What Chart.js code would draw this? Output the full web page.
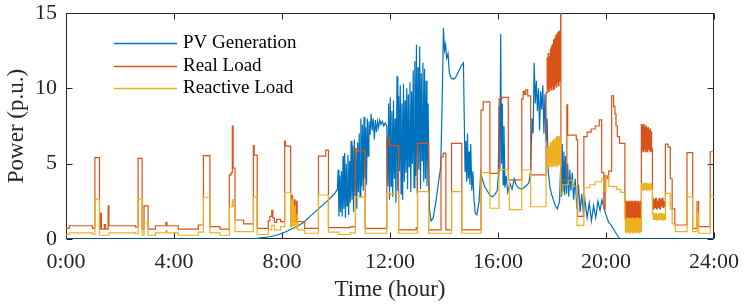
<!DOCTYPE html>
<html><head><meta charset="utf-8">
<script src="https://cdn.jsdelivr.net/npm/chart.js@4/dist/chart.umd.min.js"></script>
<style>html,body{margin:0;padding:0;background:#fff;}canvas{display:block;}</style>
</head><body>
<canvas id="c" width="746" height="307"></canvas>
<script>
const seriesNames = ['PV Generation', 'Real Load', 'Reactive Load'];
const seriesColors = ['#0072BD', '#D95319', '#EDB120'];
const xTickHours = [0, 4, 8, 12, 16, 20, 24];
const yTickValues = [0, 5, 10, 15];

// [hour, p.u.]
const pvGeneration = [
[0,0],[6.90,0],[7.20,0.08],[7.56,0.15],[7.85,0.28],[8.10,0.45],[8.45,0.75],[8.80,1.10],[9.10,1.60],[9.35,2.00],[9.72,2.60],[9.95,3.00],[10.05,3.30],
[10.08,4.60],[10.11,1.50],[10.14,4.20],[10.17,1.80],[10.20,4.50],[10.23,1.50],[10.26,5.50],[10.29,2.00],[10.32,5.70],[10.35,1.40],[10.38,5.00],[10.41,2.20],[10.44,5.60],[10.47,1.60],[10.50,5.20],[10.53,2.40],[10.56,6.50],[10.59,2.60],[10.62,6.20],[10.65,1.80],[10.68,6.60],[10.71,2.90],[10.74,5.90],[10.77,2.00],[10.80,6.40],[10.83,3.10],[10.86,7.00],[10.89,2.80],[10.92,8.00],[10.95,3.50],[10.98,7.60],[11.01,3.20],[11.04,8.10],[11.07,4.00],[11.10,7.40],[11.13,3.60],[11.16,8.00],[11.19,5.50],[11.22,7.80],[11.26,6.90],[11.30,8.30],[11.34,7.20],[11.38,8.00],[11.42,6.60],[11.46,7.90],[11.50,7.10],[11.54,7.80],[11.58,7.40],[11.62,7.90],[11.67,7.60],[11.72,7.80],[11.77,7.50],[11.82,7.70],[11.88,7.50],
[11.92,3.50],[11.95,9.00],[11.98,2.60],[12.01,9.40],[12.04,3.50],[12.07,8.50],[12.10,2.80],[12.13,9.20],[12.16,4.00],[12.19,8.00],[12.22,2.40],[12.26,10.80],[12.29,3.20],[12.32,9.50],[12.35,4.50],[12.38,10.20],[12.41,3.00],[12.44,9.00],[12.47,2.60],[12.50,10.30],[12.53,3.80],[12.56,9.20],[12.59,4.40],[12.62,10.00],[12.65,3.30],[12.68,9.60],[12.71,4.80],[12.74,10.40],[12.77,3.10],[12.80,9.80],[12.83,5.00],[12.86,11.20],[12.89,3.40],[12.92,11.80],[12.95,4.20],[12.98,12.90],[13.01,3.00],[13.04,11.40],[13.07,4.60],[13.10,12.80],[13.13,3.30],[13.16,11.00],[13.19,5.20],[13.22,11.70],[13.25,3.80],[13.28,11.30],[13.31,4.00],[13.34,10.50],[13.37,3.50],[13.41,9.00],[13.46,2.00],[13.52,1.20],[13.60,1.40],[13.70,2.50],[13.80,3.80],[13.88,4.80],
[13.93,9.00],[13.98,14.00],[14.02,12.50],[14.06,12.90],[14.10,12.00],[14.15,12.30],[14.20,11.00],[14.26,10.70],[14.34,10.60],[14.42,10.70],[14.48,10.90],[14.56,11.20],[14.64,11.50],[14.72,11.70],
[14.75,8.00],[14.78,4.50],[14.81,6.50],[14.84,3.80],[14.87,7.00],[14.90,4.00],[14.93,5.80],[14.96,3.60],[14.99,6.30],[15.03,3.20],[15.07,4.50],[15.11,2.60],[15.16,1.70],[15.22,1.60],[15.30,2.50],[15.36,4.40],[15.43,3.90],[15.50,3.50],[15.60,3.20],[15.70,2.90],[15.80,2.80],[15.90,3.00],[15.97,3.20],
[16.01,4.20],[16.04,8.80],[16.07,4.50],[16.10,13.60],[16.13,5.00],[16.16,9.00],[16.19,3.60],[16.22,7.50],[16.26,3.40],[16.30,4.20],[16.36,3.10],[16.44,3.70],[16.52,3.30],[16.60,4.00],[16.67,3.60],[16.75,3.40],[16.88,3.30],[17.02,3.50],[17.14,3.70],
[17.21,4.50],[17.26,8.00],[17.30,7.00],[17.34,11.70],[17.38,9.00],[17.42,10.50],[17.46,8.50],[17.50,10.00],[17.54,7.20],[17.58,9.80],[17.62,8.60],[17.66,10.20],[17.70,7.00],[17.74,9.60],[17.78,6.50],[17.82,8.00],[17.86,4.50],[17.92,3.50],[17.98,3.00],[18.05,2.60],[18.12,2.20],[18.20,2.00],[18.28,2.50],
[18.32,4.80],[18.35,2.80],[18.38,6.30],[18.41,3.20],[18.44,5.80],[18.47,2.90],[18.50,5.50],[18.54,3.00],[18.58,5.00],[18.62,2.80],[18.66,4.60],[18.70,3.20],[18.75,4.40],[18.80,2.60],[18.86,4.00],[18.92,2.00],[18.98,3.60],[19.04,1.80],[19.10,3.00],[19.16,1.70],[19.22,2.60],[19.30,1.40],[19.38,2.40],[19.46,1.20],[19.54,2.20],[19.62,1.40],[19.70,2.50],[19.78,1.90],[19.85,2.60],[19.92,2.10],[20.00,1.60],[20.10,1.10],[20.20,0.90],[20.30,0.60],[20.40,0.30],[20.50,0.05],[20.55,0],[24,0]
];

const realLoad = [
[0.00,0.70],[0.12,0.88],[0.98,0.70],[1.07,5.40],[1.24,0.65],[1.28,1.70],[1.31,0.65],[1.42,0.95],[1.47,0.65],[1.56,2.20],[1.59,0.88],[2.57,0.80],[2.67,5.35],[2.82,0.65],[2.89,2.20],[3.04,0.65],[3.31,0.88],[3.70,1.10],[3.74,0.88],
[4.16,0.66],[4.90,0.93],[5.09,5.53],[5.33,0.82],[5.70,0.66],[6.05,4.25],[6.12,4.40],[6.16,7.50],[6.19,4.70],[6.26,1.26],[6.58,1.00],[6.94,6.20],[6.97,5.57],[7.08,0.71],[7.49,1.20],[7.55,1.50],[7.62,1.90],[7.66,1.40],[7.72,1.10],[7.80,1.30],[7.95,1.15],
[8.10,6.50],[8.13,6.17],[8.32,1.10],[8.36,2.90],[8.39,1.20],[8.45,2.60],[8.48,1.10],[8.53,2.50],[8.56,1.15],[8.84,0.71],[9.35,5.50],[9.62,5.90],[9.72,0.75],[10.52,0.80],[10.72,6.00],[10.78,5.85],[11.08,0.71],[11.88,6.70],[11.98,6.20],
[12.32,0.60],[12.97,0.75],[13.02,6.35],[13.43,0.60],[13.89,5.45],[13.97,5.70],[14.07,0.60],[14.28,6.35],[14.66,0.60],[15.37,8.56],[15.45,9.10],[15.70,4.36],[16.04,9.30],[16.15,9.40],[16.38,3.92],[16.88,9.30],[16.93,9.80],[16.98,9.60],[17.03,9.90],[17.10,9.50],[17.21,4.25],[17.78,9.70],
[17.82,12.0],[17.84,10.0],[17.86,12.3],[17.88,9.8],[17.90,12.1],[17.92,10.1],[17.94,12.6],[17.96,9.9],[17.98,12.8],[18.00,10.2],[18.02,12.9],[18.04,9.9],[18.06,13.2],[18.08,10.0],[18.10,13.3],[18.12,10.3],[18.14,13.5],[18.16,10.1],[18.18,13.6],[18.20,10.4],[18.22,13.7],[18.24,10.2],[18.26,13.8],[18.28,10.5],[18.30,13.8],
[18.32,15.0],[18.33,3.90],[18.55,8.90],[18.58,6.90],[18.90,6.60],[18.95,1.50],[19.18,6.80],[19.30,7.10],[19.45,7.30],[19.60,7.50],[19.75,7.90],[19.84,4.40],[19.92,2.00],[19.97,4.20],[20.05,4.00],[20.10,4.50],[20.21,9.50],[20.28,8.80],[20.33,8.30],[20.37,7.50],[20.42,6.80],[20.50,6.35],
[20.70,2.4],[20.72,1.3],[20.74,2.5],[20.76,1.2],[20.78,2.4],[20.80,1.3],[20.82,2.5],[20.84,1.2],[20.86,2.5],[20.88,1.3],[20.90,2.4],[20.92,1.2],[20.94,2.5],[20.96,1.3],[20.98,2.5],[21.00,1.2],[21.02,2.4],[21.04,1.3],[21.06,2.5],[21.08,1.2],[21.10,2.5],[21.12,1.3],[21.14,2.4],[21.16,1.2],[21.18,2.5],[21.20,1.3],[21.22,2.4],[21.24,1.2],[21.26,2.5],[21.28,1.3],
[21.31,7.6],[21.33,5.9],[21.35,7.5],[21.37,5.8],[21.39,7.6],[21.41,6.0],[21.43,7.4],[21.45,5.8],[21.47,7.5],[21.49,5.9],[21.51,7.3],[21.53,5.8],[21.55,7.4],[21.57,6.0],[21.59,7.2],[21.61,5.9],[21.63,7.3],[21.65,5.8],[21.67,7.1],[21.69,6.0],
[21.72,2.7],[21.75,2.0],[21.78,2.6],[21.81,2.1],[21.84,2.7],[21.87,2.0],[21.90,2.5],[21.93,2.1],[21.96,2.7],[21.99,2.0],[22.02,2.6],[22.05,2.2],[22.08,2.7],[22.11,2.1],[22.14,2.5],[22.17,2.2],
[22.20,6.30],[22.30,6.10],[22.38,4.00],[22.45,2.00],[22.55,0.93],[23.00,5.73],[23.21,0.70],[23.37,2.47],[23.43,0.82],[23.86,5.79],[24.00,5.79]
];

const reactiveLoad = [
[0.00,0.30],[0.12,0.40],[0.98,0.30],[1.07,2.65],[1.24,0.25],[1.59,0.40],[2.57,0.35],[2.67,2.65],[2.82,0.25],[2.89,1.08],[3.04,0.25],[3.31,0.40],[3.70,0.55],[3.74,0.40],
[4.16,0.25],[4.90,0.45],[5.09,2.77],[5.33,0.40],[5.70,0.25],[6.05,2.14],[6.16,2.60],[6.19,2.14],[6.26,0.49],[6.94,2.80],[7.08,0.30],[7.49,0.60],[7.62,0.90],[7.72,0.60],[7.95,0.82],
[8.10,3.07],[8.32,0.80],[8.36,2.60],[8.40,0.90],[8.46,2.20],[8.49,0.70],[8.55,1.60],[8.58,0.60],[8.84,0.38],[9.35,2.92],[9.72,0.45],[10.10,0.30],[10.52,0.40],[10.72,2.80],[11.08,0.38],[11.88,3.07],[12.00,3.00],
[12.32,0.38],[13.02,3.14],[13.43,0.38],[14.28,3.14],[14.66,0.38],[15.37,4.40],[15.70,2.04],[16.04,4.60],[16.38,3.90],[16.42,1.95],[16.88,4.58],[17.21,2.14],[17.78,4.80],
[17.82,6.0],[17.84,4.9],[17.86,6.2],[17.88,4.8],[17.90,6.1],[17.92,5.0],[17.94,6.4],[17.96,4.8],[17.98,6.3],[18.00,4.9],[18.02,6.5],[18.04,4.8],[18.06,6.6],[18.08,5.0],[18.10,6.5],[18.12,4.9],[18.14,6.7],[18.16,4.8],[18.18,6.8],[18.20,5.0],[18.22,6.7],[18.24,4.9],[18.26,6.8],[18.28,5.0],[18.30,6.6],
[18.32,3.00],[18.40,3.60],[18.60,3.90],[18.75,3.50],[18.93,0.90],[19.18,3.40],[19.40,3.60],[19.60,3.80],[19.84,4.00],[19.92,3.20],[20.00,4.20],[20.10,3.50],[20.21,3.47],[20.40,3.30],[20.55,3.10],
[20.70,1.3],[20.72,0.45],[20.74,1.35],[20.76,0.4],[20.78,1.3],[20.80,0.5],[20.82,1.4],[20.84,0.45],[20.86,1.3],[20.88,0.4],[20.90,1.35],[20.92,0.5],[20.94,1.3],[20.96,0.45],[20.98,1.4],[21.00,0.4],[21.02,1.3],[21.04,0.5],[21.06,1.35],[21.08,0.45],[21.10,1.3],[21.12,0.4],[21.14,1.4],[21.16,0.5],[21.18,1.3],[21.20,0.45],[21.22,1.35],[21.24,0.4],[21.26,1.3],[21.28,0.5],
[21.31,3.7],[21.33,3.3],[21.35,3.7],[21.37,3.25],[21.39,3.65],[21.41,3.3],[21.43,3.7],[21.45,3.3],[21.47,3.6],[21.49,3.25],[21.51,3.7],[21.53,3.3],[21.55,3.65],[21.57,3.3],[21.59,3.6],[21.61,3.25],[21.63,3.7],[21.65,3.3],[21.67,3.6],[21.69,3.3],
[21.72,1.7],[21.75,1.3],[21.78,1.65],[21.81,1.3],[21.84,1.7],[21.87,1.25],[21.90,1.6],[21.93,1.3],[21.96,1.7],[21.99,1.3],[22.02,1.65],[22.05,1.3],[22.08,1.7],[22.11,1.25],[22.14,1.6],[22.17,1.3],
[22.20,3.03],[22.38,2.00],[22.45,1.00],[22.57,0.49],[23.00,2.80],[23.21,0.49],[23.37,1.70],[23.43,0.38],[23.86,2.80],[24.00,2.80]
];

const toXY = arr => arr.map(p => ({x: p[0], y: p[1]}));
const FONT = "'Liberation Serif', 'Times New Roman', serif";
const TXT = '#262626';

const framePlugin = {
  id: 'frame',
  beforeDatasetsDraw(chart) {
    const {ctx, chartArea: a, scales} = chart;
    const L = Math.round(a.left) + 0.5, R = Math.round(a.right) - 0.5;
    const T = Math.round(a.top) + 0.5, B = Math.round(a.bottom) - 0.5;
    ctx.save();
    ctx.strokeStyle = '#262626';
    ctx.lineWidth = 1;
    ctx.strokeRect(L, T, R - L, B - T);
    ctx.beginPath();
    const tl = 6;
    xTickHours.forEach(h => {
      const px = Math.round(scales.x.getPixelForValue(h)) + 0.5;
      ctx.moveTo(px, B); ctx.lineTo(px, B - tl);
      ctx.moveTo(px, T); ctx.lineTo(px, T + tl);
    });
    yTickValues.forEach(v => {
      const py = Math.round(scales.y.getPixelForValue(v)) + 0.5;
      ctx.moveTo(L, py); ctx.lineTo(L + tl, py);
      ctx.moveTo(R, py); ctx.lineTo(R - tl, py);
    });
    ctx.stroke();
    ctx.restore();
  },
  afterDatasetsDraw(chart) {
    const {ctx, chartArea: a} = chart;
    ctx.save();
    const rows = [a.top + 30, a.top + 52.5, a.top + 75];
    ctx.font = "19px " + FONT;
    ctx.textBaseline = 'middle';
    ctx.textAlign = 'left';
    seriesNames.forEach((name, i) => {
      const y = Math.round(rows[i]) + 0.5;
      ctx.strokeStyle = seriesColors[i];
      ctx.lineWidth = 1.3;
      ctx.beginPath();
      ctx.moveTo(a.left + 48, y); ctx.lineTo(a.left + 111, y);
      ctx.stroke();
      ctx.fillStyle = '#000';
      ctx.fillText(name, a.left + 117, y);
    });
    ctx.restore();
  }
};

new Chart(document.getElementById('c'), {
  type: 'line',
  data: {
    datasets: [
      {label: seriesNames[0], data: toXY(pvGeneration), borderColor: seriesColors[0], borderWidth: 1.2, pointRadius: 0, tension: 0, order: 3},
      {label: seriesNames[1], data: toXY(realLoad), borderColor: seriesColors[1], borderWidth: 1.2, pointRadius: 0, stepped: 'before', order: 2},
      {label: seriesNames[2], data: toXY(reactiveLoad), borderColor: seriesColors[2], borderWidth: 1.2, pointRadius: 0, stepped: 'before', order: 1}
    ]
  },
  options: {
    responsive: false,
    animation: false,
    devicePixelRatio: 1,
    layout: {padding: {top: 13, right: 32, left: 0, bottom: 0}},
    plugins: {legend: {display: false}, tooltip: {enabled: false}},
    scales: {
      x: {
        type: 'linear', min: 0, max: 24,
        grid: {display: false, drawTicks: false, tickLength: 0}, border: {display: false},
        afterFit: s => { s.height = 68; s.paddingLeft = 0; s.paddingRight = 0; },
        afterBuildTicks: s => { s.ticks = xTickHours.map(v => ({value: v})); },
        ticks: {font: {family: FONT, size: 22}, color: TXT, padding: 10, maxRotation: 0, autoSkip: false,
                callback: v => v + ':00'},
        title: {display: true, text: 'Time (hour)', font: {family: FONT, size: 23}, color: TXT, padding: {top: 0, bottom: 3}}
      },
      y: {
        min: 0, max: 15,
        grid: {display: false, drawTicks: false, tickLength: 0}, border: {display: false},
        afterFit: s => { s.width = 66; s.paddingTop = 0; s.paddingBottom = 0; },
        afterBuildTicks: s => { s.ticks = yTickValues.map(v => ({value: v})); },
        ticks: {font: {family: FONT, size: 22}, color: TXT, padding: 9},
        title: {display: true, text: 'Power (p.u.)', font: {family: FONT, size: 23}, color: TXT, padding: {top: 3, bottom: 0}}
      }
    }
  },
  plugins: [framePlugin]
});
</script>
</body></html>
